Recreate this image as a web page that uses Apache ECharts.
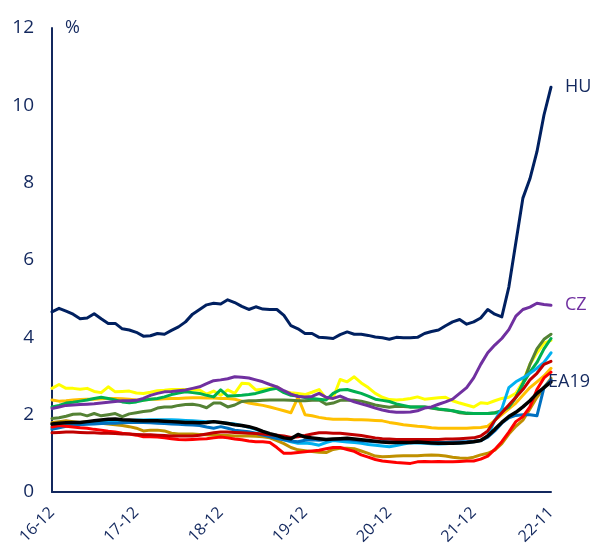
<!DOCTYPE html>
<html>
<head>
<meta charset="utf-8">
<script src="https://cdn.jsdelivr.net/npm/echarts@6/dist/echarts.min.js"></script>
<style>
html,body{margin:0;padding:0;background:#fff;}
#chart{width:592px;height:552px;}
</style>
</head>
<body>
<div id="chart"></div>
<script>
var months = ['16-12','17-01','17-02','17-03','17-04','17-05','17-06','17-07','17-08','17-09','17-10','17-11',
'17-12','18-01','18-02','18-03','18-04','18-05','18-06','18-07','18-08','18-09','18-10','18-11',
'18-12','19-01','19-02','19-03','19-04','19-05','19-06','19-07','19-08','19-09','19-10','19-11',
'19-12','20-01','20-02','20-03','20-04','20-05','20-06','20-07','20-08','20-09','20-10','20-11',
'20-12','21-01','21-02','21-03','21-04','21-05','21-06','21-07','21-08','21-09','21-10','21-11',
'21-12','22-01','22-02','22-03','22-04','22-05','22-06','22-07','22-08','22-09','22-10','22-11'];

var yTicks = [0, 2, 4, 6, 8, 10, 12];

var HU = [4.66,4.75,4.68,4.60,4.48,4.50,4.61,4.48,4.36,4.36,4.22,4.19,
4.13,4.03,4.04,4.10,4.08,4.18,4.27,4.40,4.60,4.72,4.84,4.88,
4.86,4.97,4.90,4.80,4.72,4.79,4.73,4.72,4.72,4.57,4.30,4.22,
4.10,4.10,4.00,3.99,3.97,4.07,4.14,4.08,4.08,4.05,4.01,3.99,
3.95,4.00,3.99,3.99,4.00,4.10,4.15,4.19,4.30,4.40,4.46,4.34,
4.40,4.50,4.72,4.60,4.53,5.30,6.45,7.60,8.10,8.80,9.75,10.47];

var CZ = [2.16,2.20,2.24,2.25,2.26,2.27,2.28,2.30,2.32,2.34,2.36,2.36,
2.37,2.42,2.50,2.55,2.59,2.60,2.62,2.64,2.68,2.72,2.80,2.88,
2.90,2.93,2.98,2.97,2.95,2.90,2.85,2.78,2.72,2.62,2.53,2.47,
2.46,2.47,2.55,2.45,2.42,2.48,2.40,2.33,2.28,2.23,2.17,2.12,
2.08,2.06,2.06,2.07,2.10,2.17,2.20,2.27,2.33,2.40,2.55,2.70,
2.95,3.30,3.60,3.80,3.97,4.20,4.55,4.72,4.78,4.88,4.85,4.83];

var EA19 = [1.76,1.78,1.79,1.80,1.80,1.82,1.84,1.86,1.88,1.89,1.87,1.86,
1.85,1.84,1.84,1.84,1.83,1.82,1.81,1.80,1.80,1.79,1.80,1.82,
1.80,1.77,1.74,1.72,1.69,1.64,1.57,1.51,1.46,1.40,1.38,1.49,
1.42,1.40,1.38,1.36,1.37,1.38,1.39,1.37,1.35,1.33,1.31,1.29,
1.28,1.28,1.28,1.28,1.29,1.28,1.27,1.26,1.26,1.26,1.27,1.28,
1.30,1.33,1.45,1.62,1.80,1.95,2.06,2.20,2.36,2.55,2.70,2.85];

var yellowSeries = [2.68,2.78,2.68,2.68,2.66,2.68,2.60,2.57,2.72,2.59,2.60,2.61,
2.56,2.55,2.58,2.62,2.63,2.65,2.65,2.65,2.64,2.64,2.53,2.61,
2.50,2.64,2.55,2.81,2.80,2.64,2.66,2.68,2.72,2.60,2.57,2.55,
2.52,2.58,2.65,2.42,2.43,2.91,2.85,2.98,2.82,2.70,2.55,2.45,
2.39,2.38,2.39,2.42,2.46,2.40,2.42,2.44,2.45,2.36,2.30,2.25,
2.20,2.31,2.29,2.36,2.42,2.45,2.55,2.85,3.30,3.60,3.85,3.92];

var greenSeries = [2.20,2.24,2.30,2.32,2.35,2.38,2.42,2.45,2.42,2.38,2.33,2.31,
2.33,2.37,2.40,2.42,2.46,2.52,2.56,2.59,2.57,2.55,2.50,2.46,
2.64,2.48,2.49,2.50,2.52,2.55,2.60,2.65,2.68,2.57,2.50,2.48,
2.44,2.42,2.40,2.38,2.55,2.64,2.65,2.60,2.55,2.48,2.40,2.37,
2.34,2.28,2.24,2.20,2.20,2.20,2.18,2.15,2.13,2.10,2.07,2.04,
2.03,2.03,2.03,2.04,2.08,2.20,2.45,2.80,3.10,3.35,3.70,3.97];

var oliveSeries = [1.90,1.92,1.96,2.01,2.02,1.97,2.03,1.97,2.00,2.03,1.95,2.02,
2.05,2.08,2.10,2.17,2.20,2.20,2.24,2.26,2.27,2.24,2.18,2.30,
2.30,2.20,2.25,2.34,2.36,2.36,2.37,2.38,2.38,2.38,2.37,2.36,
2.36,2.37,2.38,2.27,2.30,2.37,2.38,2.37,2.35,2.30,2.25,2.22,
2.19,2.22,2.21,2.20,2.20,2.20,2.17,2.14,2.12,2.10,2.05,2.03,
2.03,2.03,2.03,2.05,2.10,2.20,2.45,2.80,3.30,3.70,3.95,4.08];

var orangeSeries = [2.38,2.35,2.36,2.38,2.39,2.40,2.40,2.41,2.42,2.42,2.41,2.40,
2.38,2.38,2.40,2.40,2.41,2.42,2.42,2.43,2.44,2.44,2.43,2.43,
2.42,2.42,2.40,2.35,2.30,2.27,2.24,2.20,2.15,2.10,2.05,2.45,
2.00,1.97,1.93,1.90,1.88,1.88,1.88,1.87,1.87,1.86,1.85,1.84,
1.80,1.77,1.74,1.72,1.70,1.69,1.66,1.65,1.65,1.65,1.65,1.65,
1.66,1.67,1.70,1.85,2.00,2.15,2.30,2.50,2.70,2.85,3.00,3.20];

var lightBlueSeries = [1.65,1.68,1.72,1.74,1.76,1.78,1.80,1.81,1.82,1.84,1.84,1.85,
1.86,1.86,1.87,1.87,1.87,1.87,1.86,1.85,1.84,1.83,1.82,1.82,
1.80,1.78,1.76,1.72,1.67,1.62,1.55,1.48,1.42,1.35,1.30,1.26,
1.27,1.25,1.21,1.28,1.33,1.31,1.29,1.28,1.26,1.23,1.21,1.19,
1.17,1.20,1.24,1.27,1.27,1.26,1.25,1.24,1.25,1.26,1.27,1.28,
1.30,1.33,1.45,1.85,2.15,2.70,2.85,2.95,3.07,3.20,3.35,3.60];

var blueSeries = [1.62,1.66,1.70,1.73,1.74,1.75,1.76,1.77,1.78,1.78,1.79,1.80,
1.80,1.80,1.79,1.78,1.77,1.76,1.75,1.74,1.73,1.72,1.68,1.65,
1.69,1.65,1.60,1.58,1.56,1.52,1.47,1.43,1.38,1.35,1.32,1.30,
1.34,1.35,1.34,1.35,1.36,1.36,1.36,1.34,1.32,1.31,1.30,1.30,
1.30,1.30,1.30,1.30,1.30,1.30,1.29,1.28,1.28,1.29,1.30,1.30,
1.31,1.33,1.42,1.58,1.78,1.92,1.98,2.00,2.00,1.97,2.70,2.90];

var darkRedSeries = [1.53,1.54,1.55,1.55,1.54,1.53,1.53,1.52,1.52,1.51,1.50,1.50,
1.49,1.48,1.48,1.47,1.46,1.45,1.45,1.45,1.45,1.47,1.50,1.53,
1.55,1.55,1.54,1.53,1.52,1.51,1.50,1.48,1.47,1.45,1.41,1.43,
1.46,1.50,1.53,1.53,1.52,1.52,1.50,1.48,1.46,1.43,1.40,1.38,
1.37,1.36,1.36,1.36,1.36,1.36,1.36,1.36,1.37,1.37,1.38,1.39,
1.40,1.45,1.58,1.85,2.05,2.25,2.45,2.65,2.90,3.07,3.30,3.38];

var redSeries = [1.68,1.72,1.70,1.68,1.66,1.65,1.62,1.60,1.57,1.55,1.52,1.50,
1.47,1.43,1.43,1.42,1.40,1.38,1.36,1.35,1.36,1.37,1.38,1.40,
1.42,1.40,1.37,1.35,1.32,1.30,1.30,1.28,1.15,1.00,1.00,1.02,
1.04,1.06,1.08,1.12,1.15,1.15,1.10,1.05,0.96,0.90,0.84,0.80,
0.78,0.76,0.75,0.74,0.78,0.79,0.78,0.79,0.78,0.78,0.79,0.80,
0.80,0.85,0.93,1.10,1.30,1.55,1.82,1.95,2.20,2.65,2.95,3.10];

var goldSeries = [1.80,1.82,1.84,1.82,1.80,1.82,1.80,1.78,1.76,1.74,1.72,1.69,
1.65,1.58,1.60,1.60,1.58,1.52,1.50,1.50,1.50,1.49,1.48,1.47,
1.46,1.46,1.45,1.45,1.45,1.44,1.43,1.40,1.33,1.25,1.15,1.09,
1.07,1.05,1.03,1.02,1.10,1.13,1.13,1.12,1.06,1.00,0.93,0.91,
0.92,0.93,0.94,0.94,0.94,0.95,0.96,0.95,0.93,0.90,0.88,0.87,
0.90,0.96,1.00,1.08,1.25,1.50,1.70,1.86,2.15,2.45,2.70,2.94];

var NAVY = '#13285e';
var FONT = '"Open Sans", "Noto Sans", sans-serif';

function mkLine(data, color, width, z, label, labelColor, labelDist) {
  var s = {
    type: 'line',
    data: data,
    showSymbol: false,
    symbol: 'none',
    z: z,
    lineStyle: { color: color, width: width, cap: 'round', join: 'round' },
    itemStyle: { color: color },
    emphasis: { disabled: true },
    animation: false
  };
  if (label) {
    s.endLabel = {
      show: true,
      formatter: label,
      color: labelColor,
      fontSize: 18,
      fontFamily: FONT,
      distance: labelDist
    };
  }
  return s;
}

var chart = echarts.init(document.getElementById('chart'), null, { renderer: 'canvas' });
chart.setOption({
  animation: false,
  backgroundColor: '#ffffff',
  title: {
    text: '%',
    left: 60,
    top: 14,
    textStyle: { color: NAVY, fontSize: 18, fontWeight: 'normal', fontFamily: FONT }
  },
  grid: { left: 52, right: 41, top: 28, bottom: 60, containLabel: false },
  xAxis: {
    type: 'category',
    data: months,
    boundaryGap: false,
    axisLine: { show: true, lineStyle: { color: NAVY, width: 2 } },
    axisTick: { show: false },
    splitLine: { show: false },
    axisLabel: {
      rotate: 45,
      color: NAVY,
      fontSize: 16,
      fontFamily: FONT,
      margin: 18,
      interval: function (idx) { return idx % 12 === 0 || idx === months.length - 1; },
      showMaxLabel: true
    }
  },
  yAxis: {
    type: 'value',
    min: yTicks[0],
    max: yTicks[yTicks.length - 1],
    interval: 2,
    axisLine: { show: true, lineStyle: { color: NAVY, width: 2 } },
    axisTick: { show: false },
    splitLine: { show: false },
    axisLabel: { color: NAVY, fontSize: 19, fontFamily: FONT, margin: 18 }
  },
  series: [
    mkLine(yellowSeries, '#ffff00', 3, 2),
    mkLine(orangeSeries, '#ffc000', 3, 3),
    mkLine(oliveSeries, '#548235', 3, 4),
    mkLine(greenSeries, '#00b050', 3, 5),
    mkLine(CZ, '#7030a0', 3, 6, 'CZ', '#7030a0', 14),
    mkLine(goldSeries, '#bf9000', 3, 7),
    mkLine(lightBlueSeries, '#00b0f0', 3, 8),
    mkLine(blueSeries, '#0070c0', 3, 9),
    mkLine(redSeries, '#ff0000', 3, 10),
    mkLine(darkRedSeries, '#c00000', 3, 11),
    mkLine(EA19, '#000000', 3.5, 12, 'EA19', NAVY, -3),
    mkLine(HU, '#002060', 3, 13, 'HU', NAVY, 14)
  ]
});
</script>
</body>
</html>
